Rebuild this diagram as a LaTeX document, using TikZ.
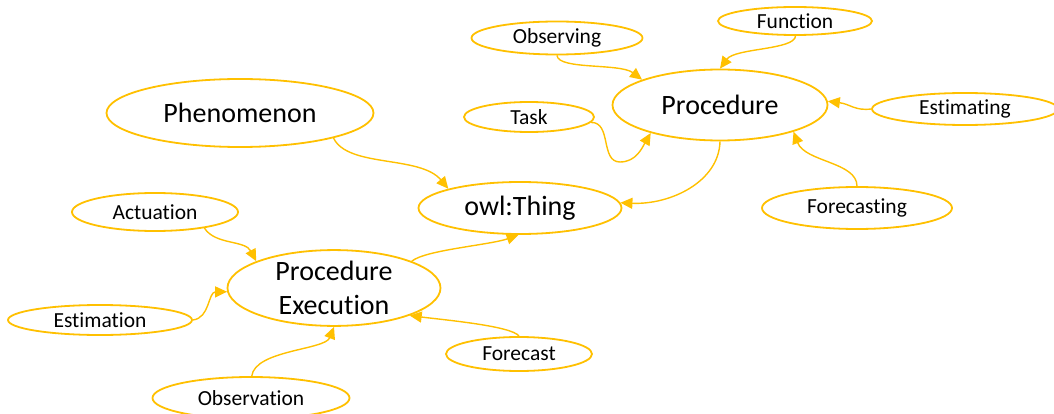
\documentclass[tikz,border=0pt]{standalone}
\usepackage{fontspec}
\setmainfont{Carlito}[Ligatures={NoCommon}]
\usetikzlibrary{shapes.geometric,arrows.meta}
\definecolor{gold}{HTML}{FFC000}
\tikzset{
  ell/.style={ellipse, draw=gold, line width=1.8pt, inner sep=0pt, fill=white},
  big/.style={ell, font=\fontsize{28}{34}\selectfont},
  small/.style={ell, font=\fontsize{21.5}{24}\selectfont},
  conn/.style={draw=gold, line width=1.4pt, -{Triangle[length=12pt,width=11pt]}}
}
\begin{document}
\begin{tikzpicture}[x=1pt,y=-1pt]
\useasboundingbox (0,0) rectangle (1054,414);
% nodes
\node[big, minimum width=267pt, minimum height=68pt] (phen) at (240,113) {Phenomenon};
\node[big, minimum width=203pt, minimum height=52pt] (owl) at (520,208) {owl:Thing};
\node[big, minimum width=215pt, minimum height=71pt] (proc) at (720,105) {Procedure};
\node[big, minimum width=213pt, minimum height=70pt, align=center] (pe) at (334,288) {Procedure\\Execution};
\node[small, minimum width=171pt, minimum height=33pt] (observing) at (557,38) {Observing};
\node[small, minimum width=154pt, minimum height=28pt] (function) at (795,21) {Function};
\node[small, minimum width=186pt, minimum height=32pt] (estimating) at (965,109) {Estimating};
\node[small, minimum width=130pt, minimum height=30pt] (task) at (529,117) {Task};
\node[small, minimum width=190pt, minimum height=42pt] (forecasting) at (857,208) {Forecasting};
\node[small, minimum width=166pt, minimum height=38pt] (actuation) at (155,212) {Actuation};
\node[small, minimum width=184pt, minimum height=30pt] (estimation) at (100,320) {Estimation};
\node[small, minimum width=146pt, minimum height=34pt] (forecast) at (519,354) {Forecast};
\node[small, minimum width=197pt, minimum height=42pt] (observation) at (251,398) {Observation};
\coordinate (taskmid) at (620,162);
% connectors
\draw[conn] (phen.-15) .. controls (348,168) and (420,155) .. (owl.165);
\draw[conn] (proc.-90) .. controls (719,182) and (670,205) .. (owl.3);
\draw[conn] (observing.-90) .. controls (558,70) and (620,63) .. (proc.162);
\draw[conn] (function.-88) .. controls (795,50) and (735,48) .. (proc.90);
\draw[conn] (estimating.180) .. controls (855,111) and (850,104) .. (proc.2);
\draw[line width=1.4pt, draw=gold] (task.-5) .. controls (612,122) and (600,162) .. (taskmid);
\draw[conn] (taskmid) .. controls (636,162) and (642,148) .. (proc.202);
\draw[conn] (forecasting.90) .. controls (857,162) and (805,162) .. (proc.-20);
\draw[conn] (actuation.-18) .. controls (215,245) and (245,240) .. (pe.161);
\draw[conn] (estimation.0) .. controls (210,318) and (208,292) .. (pe.182);
\draw[conn] (observation.88) .. controls (255,350) and (325,350) .. (pe.-90);
\draw[conn] (forecast.90) .. controls (512,326) and (445,320) .. (pe.-20);
\draw[conn] (pe.19) .. controls (425,250) and (490,245) .. (owl.-93);
\end{tikzpicture}
\end{document}
